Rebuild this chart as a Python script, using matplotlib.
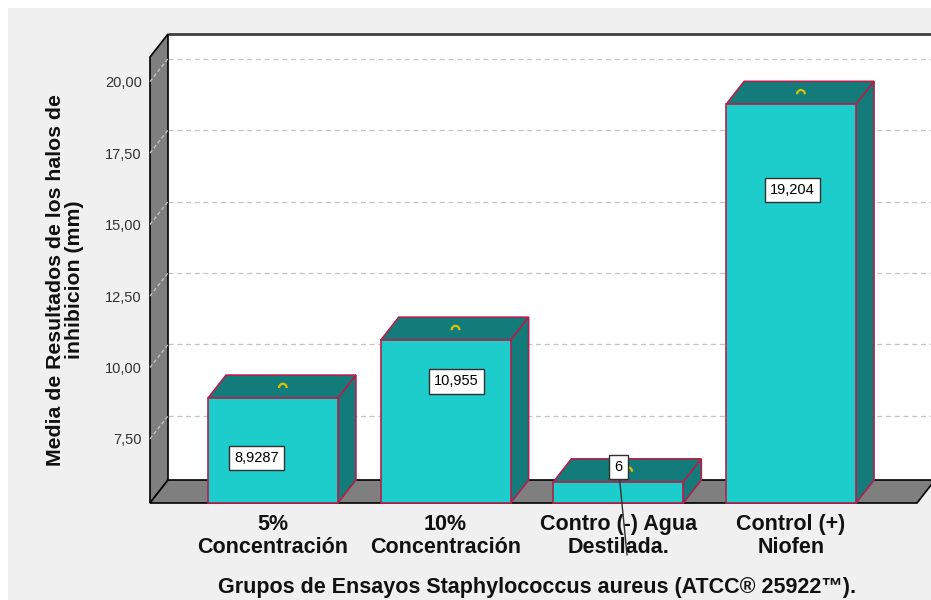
import matplotlib
matplotlib.use("Agg")
import matplotlib.pyplot as plt
from matplotlib.patches import Polygon, Rectangle, Arc

plt.rcParams['font.family'] = ['Liberation Sans', 'DejaVu Sans']

# data
categories = ['5%\nConcentración', '10%\nConcentración',
              'Contro (-) Agua\nDestilada.', 'Control (+)\nNiofen']
means = [8.9287, 10.955, 6.0, 19.204]
value_labels = ['8,9287', '10,955', '6', '19,204']
yticks = [7.5, 10.0, 12.5, 15.0, 17.5, 20.0]
ytick_labels = ['7,50', '10,00', '12,50', '15,00', '17,50', '20,00']

# label placement inside each bar (x shift in category units, y in data units)
label_dx = [-0.093, 0.064, 0.0, 0.006]
label_y = [6.84, 9.51, 6.52, 16.22]

front = '#1ccdcb'
dark = '#137b79'
edge = '#b3204c'
wallc = '#7f7f7f'

W, H = 931, 600
fig = plt.figure(figsize=(W / 100, H / 100), dpi=100)
fig.patch.set_facecolor('white')
fig.add_artist(Rectangle((8 / W, 0), 1, 1 - 8 / H, transform=fig.transFigure,
                         facecolor='#f0f0f0', edgecolor='none', zorder=-10))

ax = fig.add_axes([150 / W, 97 / H, 767 / W, 446 / H])
xl, xr = -0.712, 3.729
ylo, yhi = 5.26, 20.86
ax.set_xlim(xl, xr)
ax.set_ylim(ylo, yhi)
ax.patch.set_visible(False)
for s in ax.spines.values():
    s.set_visible(False)

# 3d depth offset converted from pixels to data units
dx = 18 / 767 * (xr - xl)
dy = 23 / 446 * (yhi - ylo)

# back wall
ax.add_patch(Polygon([(xl + dx, ylo + dy), (xr + dx + 1, ylo + dy),
                      (xr + dx + 1, yhi + dy), (xl + dx, yhi + dy)],
                     closed=True, facecolor='white', edgecolor='none',
                     clip_on=False, zorder=0))
ax.plot([xl + dx, xr + dx + 1], [yhi + dy, yhi + dy], color='#404040',
        lw=2, clip_on=False, zorder=1, solid_capstyle='butt')

for v in yticks:
    ax.plot([xl + dx, xr + dx + 1], [v + dy, v + dy], color='#c4c4c4',
            lw=0.9, ls=(0, (4, 3)), clip_on=False, zorder=1)

# left wall
ax.add_patch(Polygon([(xl, ylo), (xl, yhi), (xl + dx, yhi + dy), (xl + dx, ylo + dy)],
                     closed=True, facecolor=wallc, edgecolor='black', lw=1.2,
                     clip_on=False, zorder=2))
for v in yticks:
    ax.plot([xl, xl + dx], [v, v + dy], color='#c8c8c8', lw=0.9,
            ls=(0, (3, 2)), clip_on=False, zorder=2.5)

# floor
ax.add_patch(Polygon([(xl, ylo), (xr, ylo), (xr + dx, ylo + dy), (xl + dx, ylo + dy)],
                     closed=True, facecolor=wallc, edgecolor='black', lw=1.2,
                     clip_on=False, zorder=3))

# bars
hw = 0.376
for i, h in enumerate(means):
    x0, x1 = i - hw, i + hw
    top = Polygon([(x0, h), (x1, h), (x1 + dx, h + dy), (x0 + dx, h + dy)],
                  closed=True, facecolor=dark, edgecolor=edge, lw=1.2,
                  clip_on=False, zorder=4)
    side = Polygon([(x1, ylo), (x1, h), (x1 + dx, h + dy), (x1 + dx, ylo + dy)],
                   closed=True, facecolor=dark, edgecolor=edge, lw=1.2,
                   clip_on=False, zorder=4)
    face = Rectangle((x0, ylo), x1 - x0, h - ylo, facecolor=front,
                     edgecolor=edge, lw=1.2, clip_on=False, zorder=5)
    ax.add_patch(top)
    ax.add_patch(side)
    ax.add_patch(face)
    # small error cap seen on the top face
    ax.add_patch(Arc((i + dx / 2 + 0.005, h + dy / 2 - 0.05), 0.045, 0.3,
                     theta1=0, theta2=180, color='#d9c200', lw=1.6,
                     clip_on=False, zorder=6))

# value labels
box = dict(boxstyle='square,pad=0.35', facecolor='white', edgecolor='#303030', lw=1)
for i in range(len(means)):
    if i == 2:
        ax.annotate(value_labels[i], xy=(i + 0.05, ylo - 1.82),
                    xytext=(i + label_dx[i], label_y[i]), fontsize=10.5,
                    ha='center', va='center', bbox=box, zorder=8,
                    annotation_clip=False,
                    arrowprops=dict(arrowstyle='-', color='#303030', lw=1,
                                    shrinkA=0, shrinkB=0))
    else:
        ax.text(i + label_dx[i], label_y[i], value_labels[i], fontsize=10.5,
                ha='center', va='center', bbox=box, zorder=8)

# axes ticks
ax.set_yticks(yticks)
ax.set_yticklabels(ytick_labels, fontsize=10.5, color='#333333')
ax.set_xticks(range(len(categories)))
ax.set_xticklabels(categories, fontsize=15.5, fontweight='bold',
                   linespacing=1.1, color='#111111')
ax.tick_params(axis='y', length=0, pad=6)
ax.tick_params(axis='x', length=0, pad=8)

fig.text(537 / W, 1 - 588 / H,
         'Grupos de Ensayos Staphylococcus aureus (ATCC® 25922™).',
         fontsize=15.5, fontweight='bold', ha='center', va='center', color='#111111')
fig.text(65 / W, 1 - 280 / H,
         'Media de Resultados de los halos de\ninhibicion (mm)',
         fontsize=15.3, fontweight='bold', ha='center', va='center',
         rotation=90, linespacing=1.0, multialignment='center', color='#111111')

fig.savefig('out.png', dpi=100)
